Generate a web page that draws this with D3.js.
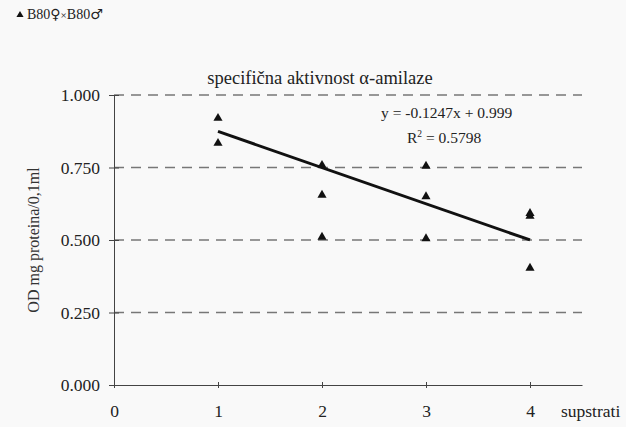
<!DOCTYPE html>
<html><head><meta charset="utf-8">
<script src="https://cdn.jsdelivr.net/npm/d3@7"></script>
<style>
html,body{margin:0;padding:0;background:#f9f9f9;}
svg{display:block;}
svg text{font-family:"Liberation Serif","Times New Roman",serif !important;}
svg text .sym{font-family:"DejaVu Sans",sans-serif !important;}
</style></head>
<body><svg id="c" width="626" height="427"></svg>
<script>
const xs = [1,1,2,2,2,3,3,3,4,4,4];
const ys = [0.92,0.834,0.758,0.655,0.51,0.755,0.65,0.505,0.592,0.582,0.403];
const yTicks = [0,0.25,0.5,0.75,1.0];
const xTicks = [0,1,2,3,4];
const slope = -0.1247, intercept = 0.999;
const eqLabel = "y = -0.1247x + 0.999";
const r2Value = "0.5798";
const title = "specifična aktivnost α-amilaze";

const svg = d3.select("#c");
const x = d3.scaleLinear().domain([0,4.5]).range([114,582]);
const y = d3.scaleLinear().domain([0,1]).range([385,95]);

// gridlines
svg.append("g").selectAll("line").data(yTicks.filter(d=>d>0)).join("line")
  .attr("x1",x(0)).attr("x2",x(4.5)).attr("y1",d=>y(d)).attr("y2",d=>y(d))
  .attr("stroke","#777").attr("stroke-width",1.4).attr("stroke-dasharray","10,7");

// axes
const yAxis = d3.axisLeft(y).tickValues(yTicks).tickFormat(d3.format(".3f")).tickSize(5).tickSizeOuter(0);
const gy = svg.append("g").attr("transform",`translate(${x(0)},0)`).call(yAxis);
gy.selectAll("text").attr("font-size",17.5).attr("fill","#222").attr("x",-14);
gy.selectAll("line").attr("stroke","#444").attr("x2",5).attr("x1",-5);
gy.select(".domain").attr("stroke","#444");

const xAxis = d3.axisBottom(x).tickValues(xTicks).tickFormat(d3.format("d")).tickSize(4).tickSizeOuter(0);
const gx = svg.append("g").attr("transform",`translate(0,${y(0)})`).call(xAxis);
gx.selectAll("text").attr("font-size",17.5).attr("fill","#222").attr("y",32).attr("dy",null);
gx.selectAll("line").attr("stroke","#444").attr("y1",-3).attr("y2",3);
gx.select(".domain").attr("stroke","#444");

svg.append("text").attr("x",561).attr("y",417).attr("font-size",17.5).attr("fill","#222").text("supstrati");

// y axis title
svg.append("text").attr("transform",`translate(39,${y(0.5)}) rotate(-90)`).attr("text-anchor","middle")
  .attr("font-size",16).attr("fill","#333").text("OD mg proteina/0,1ml");

// title
svg.append("text").attr("x",320).attr("y",84).attr("text-anchor","middle").attr("font-size",18.5).attr("fill","#222").text(title);

// trend line
svg.append("line").attr("x1",x(1)).attr("x2",x(4)).attr("y1",y(slope*1+intercept)).attr("y2",y(slope*4+intercept))
  .attr("stroke","#111").attr("stroke-width",3);

// points
const tri = d3.symbol().type(d3.symbolTriangle).size(36);
svg.append("g").selectAll("path").data(xs.map((d,i)=>[d,ys[i]])).join("path")
  .attr("d",tri).attr("transform",d=>`translate(${x(d[0])},${y(d[1])})`).attr("fill","#111");

// equation
svg.append("text").attr("x",381).attr("y",118).attr("font-size",15.5).attr("fill","#222").text(eqLabel);
const r2 = svg.append("text").attr("x",407).attr("y",143).attr("font-size",15.5).attr("fill","#222");
r2.append("tspan").text("R");
r2.append("tspan").attr("dy",-6).attr("font-size",9.5).text("2");
r2.append("tspan").attr("dy",6).text(" = " + r2Value);

// legend
svg.append("path").attr("d",d3.symbol().type(d3.symbolTriangle).size(22)).attr("transform","translate(20,15)").attr("fill","#111");
const lg = svg.append("text").attr("x",27).attr("y",19).attr("font-size",14).attr("fill","#222");
lg.append("tspan").text("B80");
lg.append("tspan").attr("class","sym").attr("font-size",14).text("♀");
lg.append("tspan").attr("font-size",11).text("×");
lg.append("tspan").text("B80");
lg.append("tspan").attr("class","sym").attr("font-size",14).text("♂");
</script></body></html>
